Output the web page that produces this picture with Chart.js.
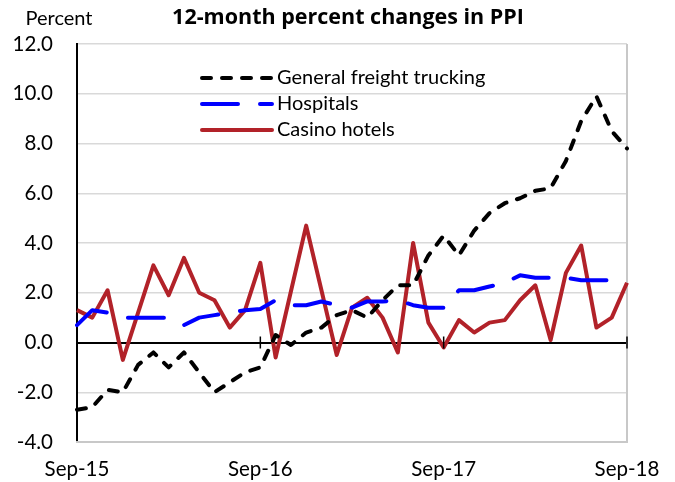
<!DOCTYPE html>
<html>
<head>
<meta charset="utf-8">
<script src="https://cdn.jsdelivr.net/npm/chart.js@4.4.0/dist/chart.umd.min.js"></script>
<style>
  body { margin: 0; background: #fff; }
  #wrap { width: 675px; height: 482px; }
</style>
</head>
<body>
<div id="wrap"><canvas id="ppiChart" width="675" height="482"></canvas></div>
<script>
// mois de sep-15 a sep-18
const months = [
    'Sep-15', 'Oct-15', 'Nov-15', 'Dec-15', 'Jan-16', 'Feb-16', 'Mar-16', 'Apr-16', 'May-16', 'Jun-16', 'Jul-16', 'Aug-16',
    'Sep-16', 'Oct-16', 'Nov-16', 'Dec-16', 'Jan-17', 'Feb-17', 'Mar-17', 'Apr-17', 'May-17', 'Jun-17', 'Jul-17', 'Aug-17',
    'Sep-17', 'Oct-17', 'Nov-17', 'Dec-17', 'Jan-18', 'Feb-18', 'Mar-18', 'Apr-18', 'May-18', 'Jun-18', 'Jul-18', 'Aug-18',
    'Sep-18'
];
const xTickLabels = ['Sep-15', 'Sep-16', 'Sep-17', 'Sep-18'];

const truckingValues = [-2.7, -2.6, -1.9, -2.0, -0.9, -0.4, -1.0, -0.4, -1.2, -2.0, -1.6, -1.2,
    -1.0, 0.3, -0.1, 0.4, 0.6, 1.1, 1.3, 1.0, 1.7, 2.3, 2.3, 3.5,
    4.3, 3.5, 4.5, 5.2, 5.6, 5.8, 6.1, 6.2, 7.3, 8.9, 9.9, 8.5,
    7.8];
const hospitalValues = [0.7, 1.3, 1.2, 1.0, 1.0, 1.0, 1.0, 0.7, 1.0, 1.1, 1.2, 1.3,
    1.35, 1.7, 1.5, 1.5, 1.65, 1.5, 1.4, 1.65, 1.65, 1.7, 1.5, 1.4,
    1.4, 2.1, 2.1, 2.25, 2.4, 2.7, 2.6, 2.6, 2.6, 2.5, 2.5, 2.5,
    2.5];
const casinoValues = [1.3, 1.0, 2.1, -0.7, 1.2, 3.1, 1.9, 3.4, 2.0, 1.7, 0.6, 1.3,
    3.2, -0.6, 2.05, 4.7, 2.1, -0.5, 1.4, 1.8, 1.0, -0.4, 4.0, 0.8,
    -0.2, 0.9, 0.4, 0.8, 0.9, 1.7, 2.3, 0.1, 2.8, 3.9, 0.6, 1.0,
    2.4];

const seriesNames = ['General freight trucking', 'Hospitals', 'Casino hotels'];
const titleText = '12-month percent changes in PPI';
const yAxisTitle = 'Percent';

const FONT = 'Lato, "Open Sans", sans-serif';

// titre, legende dans le graphe et petits traits sur la ligne zero
const extras = {
    id: 'extras',
    afterDraw(chart) {
        const ctx = chart.ctx;
        const x = chart.scales.x;
        const y = chart.scales.y;
        ctx.save();

        ctx.fillStyle = '#000';
        ctx.textBaseline = 'middle';
        ctx.textAlign = 'center';
        ctx.font = 'bold 21.5px "Open Sans", sans-serif';
        ctx.fillText(titleText, 348, 18);
        ctx.font = '20px ' + FONT;
        ctx.fillText(yAxisTitle, 59, 19);

        // traits verticaux sur l'axe zero
        const y0 = y.getPixelForValue(0);
        ctx.strokeStyle = '#000';
        ctx.lineWidth = 1.5;
        for (const lab of xTickLabels.slice(1)) {
            const px = x.getPixelForValue(months.indexOf(lab));
            ctx.beginPath();
            ctx.moveTo(px, y0 - 6);
            ctx.lineTo(px, y0 + 6);
            ctx.stroke();
        }

        // legende
        const rows = [78, 104, 130];
        chart.data.datasets.forEach((ds, i) => {
            ctx.beginPath();
            ctx.strokeStyle = ds.borderColor;
            ctx.lineWidth = ds.borderWidth;
            ctx.lineCap = 'round';
            ctx.setLineDash(ds.borderDash || []);
            ctx.moveTo(202, rows[i]);
            ctx.lineTo(272, rows[i]);
            ctx.stroke();
            ctx.setLineDash([]);
            ctx.fillStyle = '#000';
            ctx.textAlign = 'left';
            ctx.font = '20px ' + FONT;
            ctx.fillText(ds.label, 277, rows[i]);
        });
        ctx.restore();
    }
};

new Chart(document.getElementById('ppiChart'), {
    type: 'line',
    data: {
        labels: months,
        datasets: [{
            label: seriesNames[0],
            data: truckingValues,
            borderColor: '#000000',
            borderWidth: 4,
            borderDash: [9, 11],
            borderCapStyle: 'round',
        },
        {
            label: seriesNames[1],
            data: hospitalValues,
            borderColor: '#0000ff',
            borderWidth: 4,
            borderDash: [36, 22],
            borderCapStyle: 'round',
        },
        {
            label: seriesNames[2],
            data: casinoValues,
            borderColor: '#b22229',
            borderWidth: 4,
        },]
    },
    options: {
        responsive: false,
        animation: false,
        layout: { padding: { top: 44, right: 48, left: 0, bottom: 0 } },
        elements: {
            point: { radius: 0 },
            line: { tension: 0, borderJoinStyle: 'round' },
        },
        scales: {
            y: {
                min: -4,
                max: 12,
                afterFit(scale) { scale.width = 77; },
                ticks: {
                    stepSize: 2,
                    color: '#000',
                    padding: 24,
                    font: { family: FONT, size: 20.5 },
                    callback: (v) => Number(v).toFixed(1),
                },
                grid: {
                    color: (c) => c.tick && c.tick.value === 0 ? '#000' : '#d9d9d9',
                    lineWidth: (c) => c.tick && c.tick.value === 0 ? 2 : 1.5,
                    drawTicks: false,
                },
                border: { color: '#000', width: 2 },
            },
            x: {
                afterFit(scale) { scale.height = 40; },
                ticks: {
                    autoSkip: false,
                    maxRotation: 0,
                    color: '#000',
                    padding: 15,
                    font: { family: FONT, size: 20.5 },
                    callback: function (v) {
                        const lab = this.getLabelForValue(v);
                        return xTickLabels.includes(lab) ? lab : '';
                    },
                },
                grid: {
                    color: (c) => c.index === months.length - 1 ? '#c8c8c8' : 'rgba(0,0,0,0)',
                    lineWidth: 2,
                    drawTicks: false,
                },
                border: { color: '#c8c8c8', width: 2 },
            },
        },
        plugins: {
            legend: { display: false },
            tooltip: { enabled: false },
        }
    },
    plugins: [extras]
});
</script>
</body>
</html>
